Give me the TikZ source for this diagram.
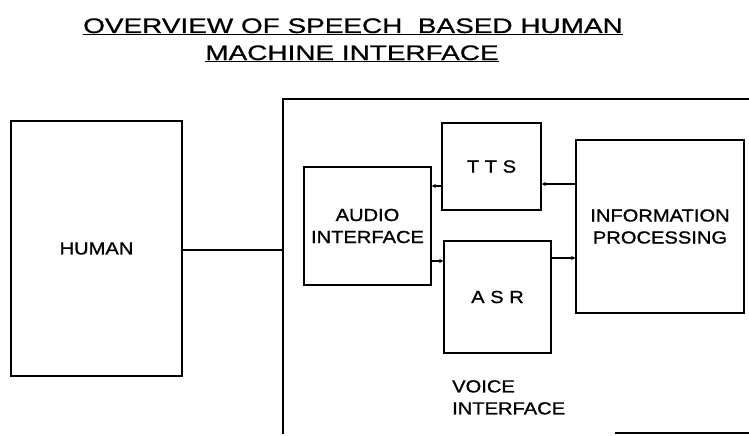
\documentclass[tikz,border=0pt]{standalone}
\usepackage{fontspec}
\setmainfont{Liberation Sans}
\newfontfamily\lblfont[FakeStretch=1.15,FakeBold=1]{Liberation Sans}
\newfontfamily\ttlfont[FakeStretch=1.33,FakeBold=0.8]{Liberation Sans}
\usetikzlibrary{arrows.meta}
\begin{document}
\begin{tikzpicture}[x=1pt,y=-1pt,
  box/.style={draw,line width=1.5pt,inner sep=0pt,align=center,
    font=\lblfont\fontsize{17.5}{22}\selectfont},
  conn/.style={line width=1.5pt},
  arr/.style={line width=1.5pt,-{Stealth[length=4pt,width=4pt]}},
  lbl/.style={inner sep=0pt,align=left,font=\lblfont\fontsize{17.5}{22}\selectfont},
  ttl/.style={inner sep=0pt,font=\ttlfont\fontsize{21}{27}\selectfont}]
\useasboundingbox (0,0) rectangle (749,436);
% title
\node[ttl,anchor=base] (t1) at (353,33) {\underline{OVERVIEW OF SPEECH\ \ BASED HUMAN}};
\node[ttl,anchor=base] (t2) at (352,60) {\underline{MACHINE INTERFACE}};
% human
\node[box,minimum width=171pt,minimum height=255pt] (human) at (96.5,248.5) {HUMAN};
% voice interface frame
\coordinate (vtr) at (760,99);
\coordinate (vtl) at (283,99);
\coordinate (vbl) at (283,434);
\coordinate (vin) at (283,250);
\coordinate (vbr1) at (615,433);
\coordinate (vbr2) at (760,433);
\draw[conn] (vtr) -- (vtl) -- (vbl);
\draw[conn] (vbr1) -- (vbr2);
% inner blocks
\node[box,minimum width=127pt,minimum height=118pt] (audio) at (367.5,226) {AUDIO\\INTERFACE};
\node[box,minimum width=99pt,minimum height=87pt] (tts) at (491.5,166.5) {T T S};
\node[box,minimum width=107pt,minimum height=112pt] (asr) at (497.5,297) {A S R};
\node[box,minimum width=168pt,minimum height=173pt] (info) at (660,226.5) {INFORMATION\\PROCESSING};
\node[lbl,anchor=north west] (vlabel) at (452,380) {VOICE\\INTERFACE};
% connectors
\draw[conn] (human.east |- vin) -- (vin);
\draw[arr] (tts.west |- 0,186) -- (audio.east |- 0,186);
\draw[arr] (info.west |- 0,184) -- (tts.east |- 0,184);
\draw[arr] (audio.east |- 0,261) -- (asr.west |- 0,261);
\draw[arr] (asr.east |- 0,258) -- (info.west |- 0,258);
\end{tikzpicture}
\end{document}
